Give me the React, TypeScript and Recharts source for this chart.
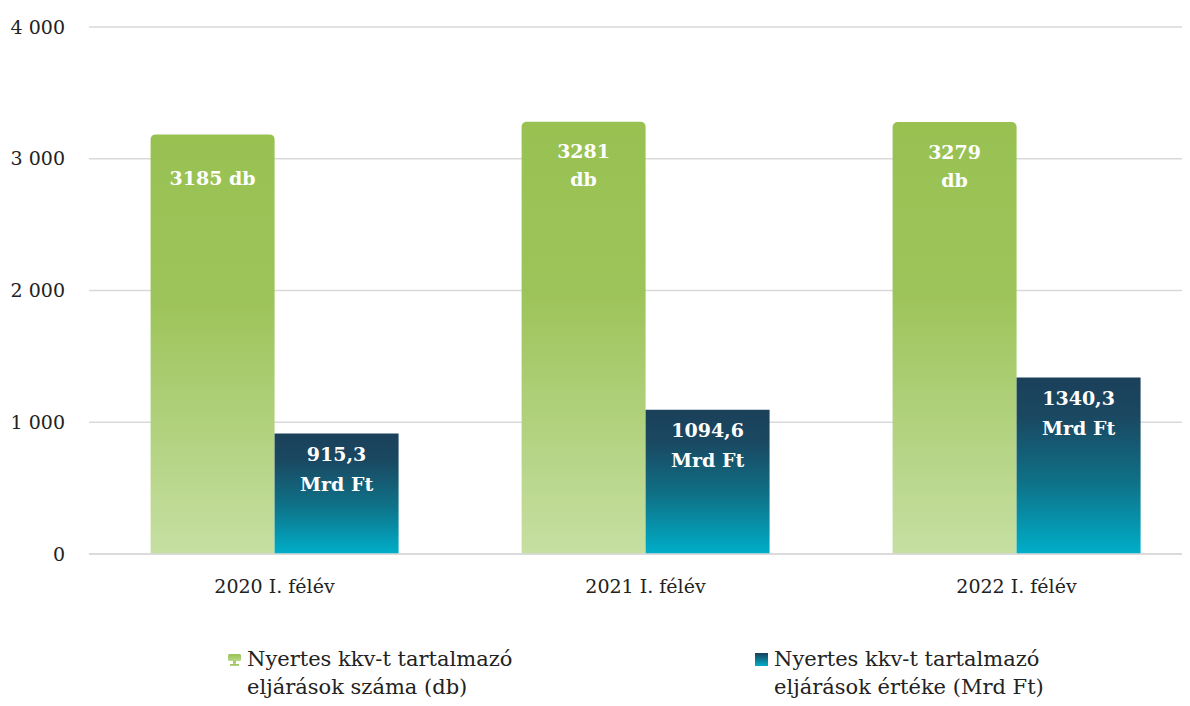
import { BarChart, Bar, XAxis, YAxis, CartesianGrid, Legend, LabelList } from "recharts"

const categories = ["2020 I. félév", "2021 I. félév", "2022 I. félév"]
const countValues = [3185, 3281, 3279]
const amountValues = [915.3, 1094.6, 1340.3]
const countLabels = ["3185 db", "3281\ndb", "3279\ndb"]
const amountLabels = ["915,3\nMrd Ft", "1094,6\nMrd Ft", "1340,3\nMrd Ft"]
const yTicks = [0, 1000, 2000, 3000, 4000]
const seriesNames = [
  ["Nyertes kkv-t tartalmazó", "eljárások száma (db)"],
  ["Nyertes kkv-t tartalmazó", "eljárások értéke (Mrd Ft)"],
]

const data = categories.map((name, i) => ({
  name,
  count: countValues[i],
  amount: amountValues[i],
  countLabel: countLabels[i],
  amountLabel: amountLabels[i],
}))

const FONT = "'DejaVu Serif', serif"

const fmtTick = (v: number) => (v >= 1000 ? `${Math.floor(v / 1000)} ${String(v % 1000).padStart(3, "0")}` : String(v))

function MultiLine(props: any, firstOffset: number, lineH: number, centered: boolean) {
  const { x, y, width, value } = props
  const lines = String(value).split("\n")
  const cx = x + width / 2
  const start = centered ? y + firstOffset - ((lines.length - 1) * lineH) / 2 : y + firstOffset
  return (
    <text x={cx} textAnchor="middle" fill="#fff" fontWeight="bold" fontSize={19} fontFamily={FONT}>
      {lines.map((l, i) => (
        <tspan key={i} x={cx} y={start + i * lineH} dy="0.35em">
          {l}
        </tspan>
      ))}
    </text>
  )
}

function LegendBox() {
  const items = [
    { left: 228, icon: "url(#legGreen)" },
    { left: 755, icon: "url(#legBlue)" },
  ]
  return (
    <div style={{ position: "relative", height: 72, fontFamily: FONT, fontSize: 21, color: "#222" }}>
      {items.map((it, i) => (
        <div key={i} style={{ position: "absolute", left: it.left, top: 11, display: "flex" }}>
          <svg width={14} height={14} style={{ marginTop: 8, marginRight: 5 }}>
            <defs>
              <linearGradient id="legGreen" x1="0" y1="0" x2="0" y2="1">
                <stop offset="0" stopColor="#98C152" />
                <stop offset="1" stopColor="#B9D88A" />
              </linearGradient>
              <linearGradient id="legBlue" x1="0" y1="0" x2="0" y2="1">
                <stop offset="0" stopColor="#1B4059" />
                <stop offset="1" stopColor="#00AEC8" />
              </linearGradient>
            </defs>
            {i === 0 ? (
              <g fill={it.icon}>
                <rect x={0} y={1} width={13} height={7} rx={1.5} />
                <rect x={5} y={8} width={3} height={3} />
                <rect x={2} y={11} width={9} height={2} />
              </g>
            ) : (
              <rect x={0} y={0} width={13} height={13} fill={it.icon} />
            )}
          </svg>
          <div style={{ lineHeight: "28px" }}>
            {seriesNames[i].map((t, j) => (
              <div key={j}>{t}</div>
            ))}
          </div>
        </div>
      ))}
    </div>
  )
}

export default function App() {
  return (
    <div style={{ margin: -8, width: 1190, height: 706, overflow: "hidden", background: "#fff" }}>
      <BarChart
        width={1202}
        height={706}
        data={data}
        margin={{ top: 27, right: 0, bottom: 0, left: 0 }}
        barCategoryGap="16.6%"
        barGap={0}
      >
        <defs>
          <linearGradient id="gGreen" x1="0" y1="0" x2="0" y2="1">
            <stop offset="0" stopColor="#98C152" />
            <stop offset="0.4" stopColor="#9DC45A" />
            <stop offset="1" stopColor="#C6DFA2" />
          </linearGradient>
          <linearGradient id="gBlue" x1="0" y1="0" x2="0" y2="1">
            <stop offset="0" stopColor="#1B405A" />
            <stop offset="0.22" stopColor="#1A4861" />
            <stop offset="0.6" stopColor="#0E7288" />
            <stop offset="1" stopColor="#00AEC9" />
          </linearGradient>
        </defs>
        <CartesianGrid vertical={false} stroke="#d9d9d9" strokeWidth={1.5} />
        <XAxis
          dataKey="name"
          height={80}
          tickLine={false}
          axisLine={{ stroke: "#d9d9d9", strokeWidth: 1.5 }}
          tickMargin={20}
          tick={{ fill: "#222", fontSize: 19, fontFamily: FONT }}
        />
        <YAxis
          width={89}
          domain={[0, 4000]}
          ticks={yTicks}
          tickFormatter={fmtTick}
          axisLine={false}
          tickLine={false}
          tickMargin={18}
          tick={{ fill: "#222", fontSize: 19, fontFamily: FONT }}
        />
        <Legend verticalAlign="bottom" height={72} content={() => <LegendBox />} />
        <Bar dataKey="count" fill="url(#gGreen)" radius={[5, 5, 0, 0]} isAnimationActive={false}>
          <LabelList dataKey="countLabel" content={(p: any) => MultiLine(p, 44, 28, true)} />
        </Bar>
        <Bar dataKey="amount" fill="url(#gBlue)" isAnimationActive={false}>
          <LabelList dataKey="amountLabel" content={(p: any) => MultiLine(p, 21, 30, false)} />
        </Bar>
      </BarChart>
    </div>
  )
}
